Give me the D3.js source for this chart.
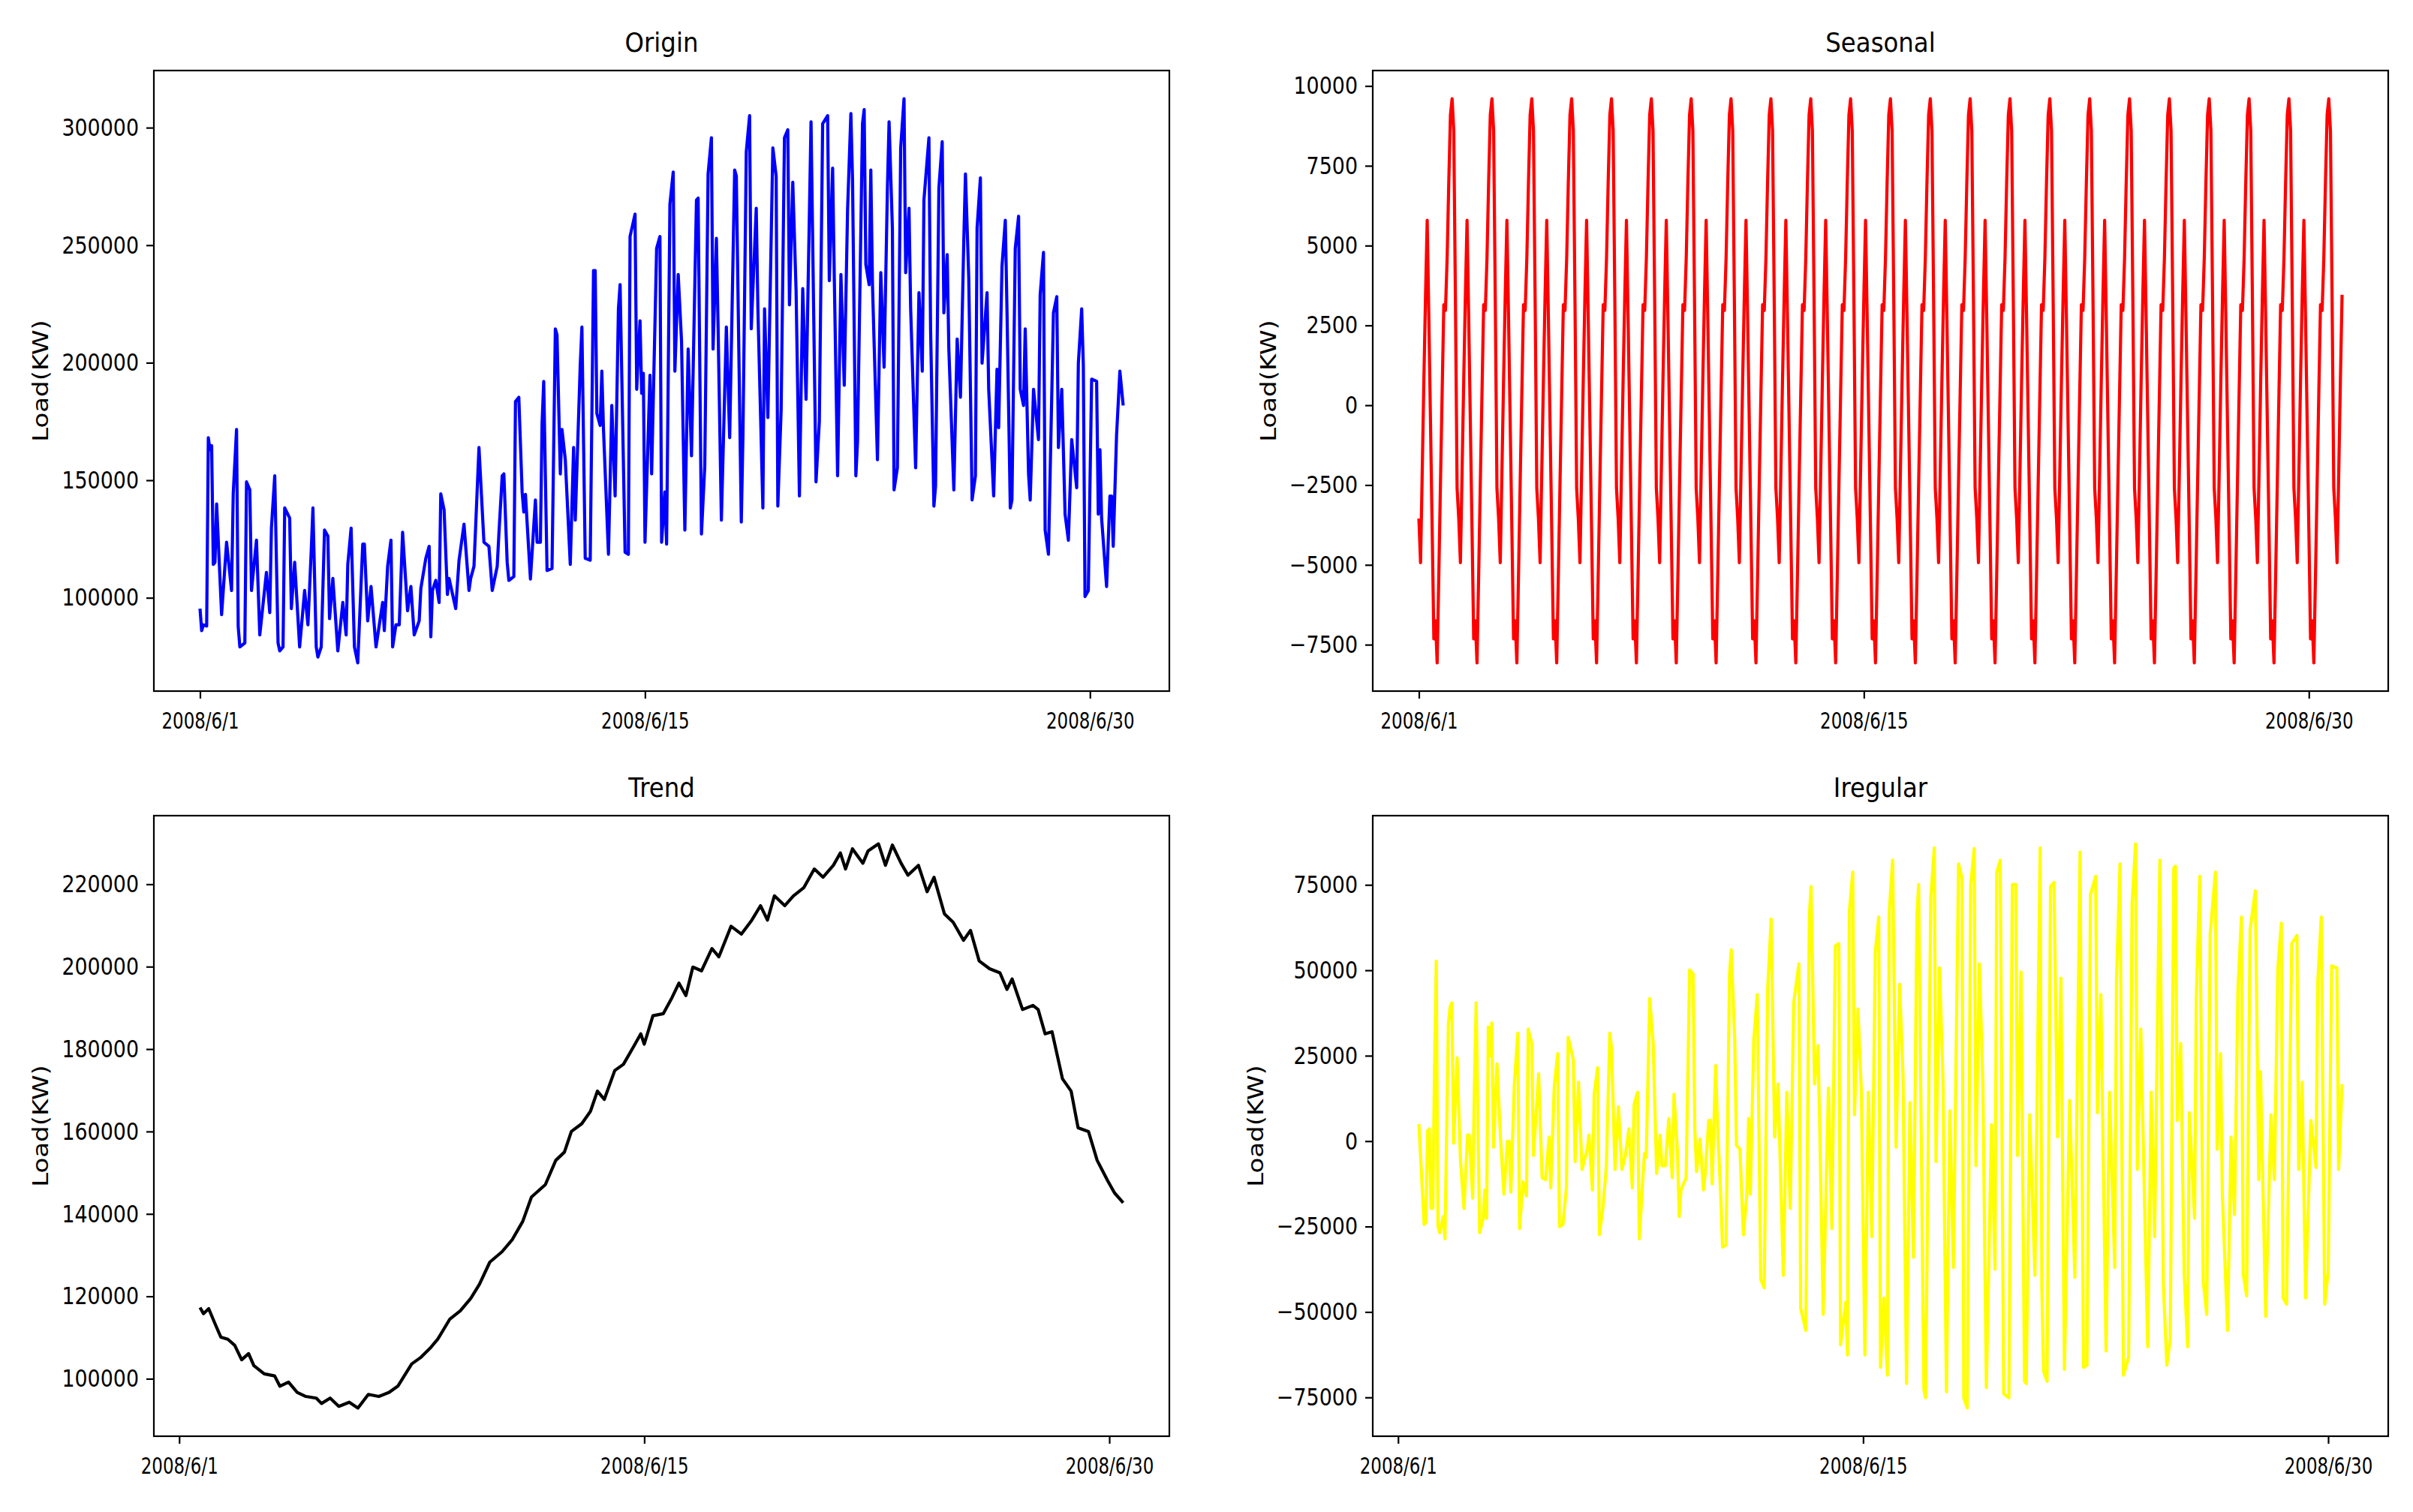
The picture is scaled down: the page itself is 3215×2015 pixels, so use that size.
<!DOCTYPE html>
<html>
<head>
<meta charset="utf-8">
<title>Load decomposition</title>
<script src="https://cdn.jsdelivr.net/npm/d3@7"></script>
<style>
body { margin: 0; background: #fff; }
text { font-family: "DejaVu Sans", sans-serif; fill: #000; }
</style>
</head>
<body>
<script>
// x ticks (hour index -> date label)
var tickHours = [0, 268, 536];
var tickDates = ["2008/6/1", "2008/6/15", "2008/6/30"];

// y ticks per panel
var originTicks = [100000, 150000, 200000, 250000, 300000];
var seasonalTicks = [-7500, -5000, -2500, 0, 2500, 5000, 7500, 10000];
var trendTicks = [100000, 120000, 140000, 160000, 180000, 200000, 220000];
var irregularTicks = [-75000, -50000, -25000, 0, 25000, 50000, 75000];

// observed load, [hour, kW] at the turning points of the curve
var originPoints = [
  [0,95400],[1,86000],[2,88500],[4,88000],[5,168100],[6,163000],[7,164700],[8,114200],[9,115100],[10,139900],
  [13,92800],[16,123600],[19,103100],[20,144200],[22,171600],[23,87700],[24,79100],[27,80800],[28,149300],[30,145900],
  [31,103100],[34,124500],[36,84200],[40,110800],[42,93700],[43,129600],[45,151900],[47,80800],[48,77400],[50,79100],
  [51,138200],[54,133900],[55,95400],[57,115100],[60,79100],[63,103100],[65,88500],[67,120200],[68,138200],[70,79100],
  [71,74800],[73,79100],[75,128800],[77,126200],[78,91100],[80,108200],[83,77400],[86,98000],[88,84200],[89,114200],
  [91,129600],[93,79100],[95,72300],[98,122800],[99,122800],[101,90200],[103,104800],[106,79100],[110,98000],[111,86000],
  [113,113400],[115,124500],[116,79100],[118,88500],[120,88500],[122,127900],[125,94500],[127,104800],[129,84200],[132,90200],
  [133,104000],[136,116800],[138,121900],[139,83400],[140,103100],[142,107400],[144,98000],[145,144200],[147,137300],[149,101400],
  [150,108200],[154,95400],[156,115900],[159,131300],[162,103100],[163,108200],[165,113400],[168,163900],[171,123600],[174,121900],
  [176,103100],[179,113400],[180,127100],[182,151900],[183,152700],[185,115000],[186,107400],[189,109000],[190,183500],[192,185300],
  [194,145000],[195,136500],[196,144000],[199,108000],[202,141600],[203,123600],[205,123600],[206,174000],[207,192000],[209,111600],
  [212,112500],[214,214400],[215,211800],[217,152700],[218,171600],[220,158700],[223,114200],[225,163900],[226,133000],[229,199000],
  [230,215200],[232,116800],[235,116000],[237,239200],[238,239200],[239,178400],[241,173300],[242,196400],[243,171600],[246,118500],
  [248,181800],[250,143300],[252,222900],[253,233200],[256,119400],[258,118500],[259,253700],[262,263200],[263,188700],[265,217800],
  [266,187000],[267,195500],[268,123600],[271,194700],[272,152700],[275,248600],[277,253700],[278,123600],[280,145000],[281,122800],
  [283,267400],[285,281100],[286,196400],[288,237500],[290,209200],[292,128800],[294,205800],[296,160400],[299,269200],[300,270000],
  [302,127100],[304,156200],[306,280300],[308,295700],[309,205800],[311,252900],[312,216100],[314,133000],[317,215200],[319,168100],
  [322,282000],[323,279400],[326,132200],[327,169000],[329,289700],[331,305100],[332,214400],[335,265700],[336,222900],[339,138200],
  [340,222900],[342,176700],[345,291400],[347,279400],[348,139000],[350,180100],[352,295700],[354,299100],[355,224600],[357,276800],
  [359,230600],[361,143300],[363,231500],[365,184400],[368,302500],[371,149300],[373,175000],[375,301700],[378,305100],[379,234900],
  [381,282800],[382,236600],[384,151900],[386,237500],[388,190400],[390,264900],[392,306000],[393,277700],[395,151900],[396,166400],
  [399,301700],[400,307700],[401,241800],[403,233200],[404,282000],[405,233200],[408,158700],[410,238300],[412,198100],[414,274300],
  [415,302500],[417,257200],[418,145900],[420,155300],[422,291400],[424,312300],[425,238300],[427,265700],[428,222900],[431,155300],
  [433,229800],[435,196400],[436,269200],[439,295700],[440,214400],[442,139000],[443,147600],[445,274300],[447,294000],[448,221200],
  [450,246000],[451,205800],[454,145900],[456,210100],[458,185300],[460,252000],[461,280300],[463,235800],[465,141600],[467,151900],
  [468,257200],[470,278600],[471,199800],[474,229800],[475,188700],[478,143300],[480,197200],[481,172400],[483,240900],[485,260600],
  [486,222900],[488,138200],[489,141600],[491,248600],[493,262300],[494,188700],[496,181800],[497,214400],[499,152700],[500,141600],
  [502,188700],[505,167300],[506,228900],[508,246900],[509,128800],[511,118500],[514,221200],[516,228100],[517,163900],[519,188700],
  [521,135600],[523,124500],[525,167300],[528,146800],[529,199800],[531,222900],[532,198900],[533,100500],[535,103100],[537,193000],
  [540,192100],[541,135600],[542,163000],[543,133900],[546,104800],[548,143300],[549,143300],[550,121900],[552,169000],[554,196400],
  [556,181800]
];

// seasonal component, one value per hour (index = hour), one row per day
var seasonalLoad = [
  -3545,-4930,-2100,800,3460,5790,2700,-600,-3900,-7320,-6750,-8070,-5300,-2400,400,3150,2970,4600,7000,9100,
  9600,8600,3300,-2600,-3545,-4930,-2100,800,3460,5790,2700,-600,-3900,-7320,-6750,-8070,-5300,-2400,400,3150,2970,4600,7000,9100,
  9600,8600,3300,-2600,-3545,-4930,-2100,800,3460,5790,2700,-600,-3900,-7320,-6750,-8070,-5300,-2400,400,3150,2970,4600,7000,9100,
  9600,8600,3300,-2600,-3545,-4930,-2100,800,3460,5790,2700,-600,-3900,-7320,-6750,-8070,-5300,-2400,400,3150,2970,4600,7000,9100,
  9600,8600,3300,-2600,-3545,-4930,-2100,800,3460,5790,2700,-600,-3900,-7320,-6750,-8070,-5300,-2400,400,3150,2970,4600,7000,9100,
  9600,8600,3300,-2600,-3545,-4930,-2100,800,3460,5790,2700,-600,-3900,-7320,-6750,-8070,-5300,-2400,400,3150,2970,4600,7000,9100,
  9600,8600,3300,-2600,-3545,-4930,-2100,800,3460,5790,2700,-600,-3900,-7320,-6750,-8070,-5300,-2400,400,3150,2970,4600,7000,9100,
  9600,8600,3300,-2600,-3545,-4930,-2100,800,3460,5790,2700,-600,-3900,-7320,-6750,-8070,-5300,-2400,400,3150,2970,4600,7000,9100,
  9600,8600,3300,-2600,-3545,-4930,-2100,800,3460,5790,2700,-600,-3900,-7320,-6750,-8070,-5300,-2400,400,3150,2970,4600,7000,9100,
  9600,8600,3300,-2600,-3545,-4930,-2100,800,3460,5790,2700,-600,-3900,-7320,-6750,-8070,-5300,-2400,400,3150,2970,4600,7000,9100,
  9600,8600,3300,-2600,-3545,-4930,-2100,800,3460,5790,2700,-600,-3900,-7320,-6750,-8070,-5300,-2400,400,3150,2970,4600,7000,9100,
  9600,8600,3300,-2600,-3545,-4930,-2100,800,3460,5790,2700,-600,-3900,-7320,-6750,-8070,-5300,-2400,400,3150,2970,4600,7000,9100,
  9600,8600,3300,-2600,-3545,-4930,-2100,800,3460,5790,2700,-600,-3900,-7320,-6750,-8070,-5300,-2400,400,3150,2970,4600,7000,9100,
  9600,8600,3300,-2600,-3545,-4930,-2100,800,3460,5790,2700,-600,-3900,-7320,-6750,-8070,-5300,-2400,400,3150,2970,4600,7000,9100,
  9600,8600,3300,-2600,-3545,-4930,-2100,800,3460,5790,2700,-600,-3900,-7320,-6750,-8070,-5300,-2400,400,3150,2970,4600,7000,9100,
  9600,8600,3300,-2600,-3545,-4930,-2100,800,3460,5790,2700,-600,-3900,-7320,-6750,-8070,-5300,-2400,400,3150,2970,4600,7000,9100,
  9600,8600,3300,-2600,-3545,-4930,-2100,800,3460,5790,2700,-600,-3900,-7320,-6750,-8070,-5300,-2400,400,3150,2970,4600,7000,9100,
  9600,8600,3300,-2600,-3545,-4930,-2100,800,3460,5790,2700,-600,-3900,-7320,-6750,-8070,-5300,-2400,400,3150,2970,4600,7000,9100,
  9600,8600,3300,-2600,-3545,-4930,-2100,800,3460,5790,2700,-600,-3900,-7320,-6750,-8070,-5300,-2400,400,3150,2970,4600,7000,9100,
  9600,8600,3300,-2600,-3545,-4930,-2100,800,3460,5790,2700,-600,-3900,-7320,-6750,-8070,-5300,-2400,400,3150,2970,4600,7000,9100,
  9600,8600,3300,-2600,-3545,-4930,-2100,800,3460,5790,2700,-600,-3900,-7320,-6750,-8070,-5300,-2400,400,3150,2970,4600,7000,9100,
  9600,8600,3300,-2600,-3545,-4930,-2100,800,3460,5790,2700,-600,-3900,-7320,-6750,-8070,-5300,-2400,400,3150,2970,4600,7000,9100,
  9600,8600,3300,-2600,-3545,-4930,-2100,800,3460,5790,2700,-600,-3900,-7320,-6750,-8070,-5300,-2400,400,3150,2970,4600,7000,9100,
  9600,8600,3300,-2600,-3545,-4930,-2100,800,3460
];

// trend component, [hour, kW]
var trendPoints = [
  [12,117300],[14,115800],[17,117000],[21,113000],[24,110100],[28,109600],[32,108100],[36,104600],[40,106100],[43,103200],
  [49,101200],[55,100700],[58,98200],[63,99200],[68,96700],[73,95700],[79,95300],[82,94000],[87,95300],[92,93300],
  [98,94300],[103,92900],[109,96200],[115,95700],[121,96700],[126,98200],[134,103600],[139,105100],[145,107600],[149,109600],
  [156,114500],[162,116500],[168,119500],[173,122900],[179,128300],[186,130800],[192,133800],[198,138200],[203,144100],[211,147100],
  [217,153000],[222,155000],[226,160000],[232,161900],[237,164900],[241,169800],[245,167800],[251,174800],[256,176300],[262,180700],
  [266,183700],[268,181200],[273,188100],[279,188600],[284,192500],[288,196000],[292,193000],[296,199900],[301,199000],[307,204400],
  [311,202400],[318,209800],[324,207900],[330,211300],[335,214800],[339,211300],[343,217200],[349,214800],[354,217200],[360,219200],
  [366,223700],[371,221700],[377,224600],[381,227600],[384,223700],[388,228600],[394,225100],[397,228100],[403,229800],[407,224600],
  [411,229500],[416,225100],[420,222200],[426,224600],[431,218200],[435,221700],[441,212800],[446,210800],[452,206400],[456,208800],
  [461,201400],[467,199500],[473,198500],[477,194500],[480,197000],[486,189600],[492,190600],[495,189600],[499,183700],[503,184200],
  [509,172800],[514,169800],[518,160900],[524,160000],[529,153000],[535,148100],[539,145100],[544,142700]
];

// irregular (residual) component, [hour, kW]
var irregularPoints = [
  [12,5000],[14,-14300],[15,-24400],[16,-23800],[17,3000],[18,3600],[19,-19700],[20,-19700],[21,21500],[22,52700],
  [23,-25000],[24,-26800],[26,-22100],[27,-28600],[29,34600],[30,39300],[31,40500],[32,-600],[34,24400],[36,-6000],
  [38,-19700],[40,1800],[41,1800],[43,-16700],[44,16700],[45,40500],[47,-26800],[49,-22600],[50,-14300],[51,-22600],
  [52,33400],[53,25000],[54,34600],[55,-1800],[57,22600],[59,1200],[61,-15500],[63,0],[64,0],[65,-14900],
  [67,16700],[69,31600],[70,-25600],[72,-11900],[74,-16100],[75,32800],[77,28600],[78,-4200],[81,19700],[83,-10700],
  [85,-11300],[87,1200],[88,-13700],[90,16100],[92,25600],[93,-25000],[95,-24400],[97,-13700],[98,30400],[101,23800],
  [102,-6000],[104,17300],[106,-8300],[109,-2400],[110,1800],[112,-14300],[113,13700],[115,21500],[116,-27400],[118,-19700],
  [120,-7700],[122,31600],[123,27400],[125,-8300],[127,10100],[129,-8300],[131,-4200],[133,3600],[135,-13700],[136,10700],
  [138,14300],[139,-28600],[141,-11300],[142,-3600],[143,-4800],[145,41700],[147,28600],[149,-9500],[151,1800],[152,-7200],
  [154,-7200],[156,6600],[158,-10700],[159,13700],[161,-3000],[162,-22100],[163,-14300],[166,-10700],[168,50100],[170,48900],
  [171,3600],[172,-8900],[174,600],[176,-14300],[177,-9500],[179,6000],[180,6000],[181,-12500],[183,22100],[184,6000],
  [186,-16700],[187,-31000],[189,-30400],[191,48900],[192,56000],[194,29800],[195,-1200],[197,-2400],[199,-27400],[201,-15500],
  [202,6600],[203,-15500],[205,29800],[207,42900],[209,-40500],[211,-42900],[213,44700],[215,65000],[217,1200],[219,16700],
  [222,-39300],[224,14300],[226,-19700],[228,40500],[231,51900],[232,-48900],[235,-55400],[237,66200],[238,74500],[240,16700],
  [242,28000],[243,3600],[245,-50700],[248,15500],[250,-25600],[252,57200],[254,57800],[255,-59600],[258,-47100],[259,-62600],
  [260,66800],[262,78700],[263,7700],[265,38700],[267,14300],[269,-62600],[271,14300],[273,-28000],[275,55400],[277,65600],
  [278,-66200],[280,-45900],[282,-68500],[283,66800],[285,82200],[287,-1800],[289,45900],[291,19100],[293,-70900],[295,11300],
  [297,-34000],[299,66200],[300,75100],[303,-72700],[304,-75100],[307,71500],[309,85800],[310,-6000],[312,50700],[314,18500],
  [316,-73300],[318,8900],[320,-37000],[323,81100],[325,76900],[326,-75100],[328,-78100],[330,75100],[332,85600],[333,-7200],
  [335,51900],[337,16700],[339,-72100],[342,4800],[344,-37500],[345,78700],[347,82200],[349,-73900],[352,-75100],[354,75100],
  [356,75100],[357,-4200],[359,49500],[361,-70300],[362,-70900],[364,7700],[367,-39300],[370,85800],[371,-42900],[372,-67300],
  [374,-70300],[376,74500],[378,75700],[380,1200],[382,47700],[384,-66800],[387,11900],[390,-39900],[393,84600],[395,-66200],
  [397,-65600],[399,72100],[402,77500],[403,8300],[405,42900],[408,-61400],[410,14300],[413,-37000],[414,47100],[416,81100],
  [418,-68500],[421,-63200],[423,69700],[425,87000],[426,-8300],[428,32800],[432,-60200],[434,14300],[436,-28000],[438,49500],
  [439,82200],[441,-41700],[443,-65600],[445,-57800],[447,79900],[448,80500],[449,6000],[451,28600],[453,-38700],[455,-60200],
  [456,8300],[459,-22600],[460,41700],[462,77500],[464,-41100],[466,-50700],[468,60800],[471,78700],[472,-2400],[474,25600],
  [475,-15500],[478,-55400],[480,1200],[482,-21500],[484,44700],[486,65600],[487,-38700],[489,-45300],[491,62000],[494,73300],
  [496,-11300],[497,20300],[500,-51300],[503,7700],[505,-11300],[507,50700],[509,63800],[510,-45900],[512,-47700],[515,57800],
  [518,60200],[519,-8300],[521,17300],[523,-45900],[526,6000],[529,-7700],[530,46500],[532,65600],[534,-47700],[536,-38100],
  [538,51300],[541,50700],[542,-8300],[544,16700]
];

var svgW = 3215, svgH = 2015;
var boxW = 1353, boxH = 827;
var colL = 205, colR = 1829, rowT = 94, rowB = 1087;

var svg = d3.select("body").append("svg")
  .attr("width", svgW).attr("height", svgH)
  .style("background", "#fff");

function fmt(d) { return d < 0 ? "\u2212" + (-d) : "" + d; }

function drawPanel(p) {
  var g = svg.append("g").attr("transform", "translate(" + p.left + "," + p.top + ")");

  // matplotlib-like autoscale: data extent plus 5% on each side
  var xExt = d3.extent(p.data, d => d[0]), yExt = d3.extent(p.data, d => d[1]);
  var xPad = (xExt[1] - xExt[0]) * 0.05, yPad = (yExt[1] - yExt[0]) * 0.05;
  var x = d3.scaleLinear().domain([xExt[0] - xPad, xExt[1] + xPad]).range([0, boxW]);
  var y = d3.scaleLinear().domain([yExt[0] - yPad, yExt[1] + yPad]).range([boxH, 0]);

  g.append("path")
    .datum(p.data)
    .attr("fill", "none")
    .attr("stroke", p.color)
    .attr("stroke-width", 4.2)
    .attr("stroke-linejoin", "round")
    .attr("d", d3.line().x(d => x(d[0])).y(d => y(d[1])));

  var ya = g.append("g")
    .call(d3.axisLeft(y).tickValues(p.yTicks).tickFormat(fmt).tickSize(10).tickPadding(10));
  ya.select(".domain").remove();
  ya.selectAll("line").attr("stroke", "#000").attr("stroke-width", 2.2);
  ya.selectAll("text")
    .attr("font-size", 32)
    .attr("font-family", "DejaVu Sans")
    .attr("fill", "#000")
    .attr("x", -20 / 0.84)
    .attr("transform", "scale(0.84,1)");

  var xa = g.append("g").attr("transform", "translate(0," + boxH + ")")
    .call(d3.axisBottom(x).tickValues(tickHours).tickFormat((d, i) => tickDates[i]).tickSize(10));
  xa.select(".domain").remove();
  xa.selectAll("line").attr("stroke", "#000").attr("stroke-width", 2.2);
  xa.selectAll("text")
    .attr("font-size", 31)
    .attr("font-family", "DejaVu Sans")
    .attr("fill", "#000")
    .attr("y", 50)
    .attr("dy", 0)
    .attr("transform", "scale(0.74,1)");

  g.append("rect")
    .attr("width", boxW).attr("height", boxH)
    .attr("fill", "none").attr("stroke", "#000").attr("stroke-width", 2.2);

  g.append("text")
    .attr("transform", "translate(" + (boxW / 2) + ",-25) scale(0.9,1)")
    .attr("text-anchor", "middle")
    .attr("font-size", 36)
    .text(p.title);

  // y label sits just left of the widest tick label
  var minLeft = d3.min(ya.selectAll("text").nodes(), n => n.getBoundingClientRect().left) - p.left;
  g.append("text")
    .attr("transform", "translate(" + (minLeft - 18) + "," + (boxH / 2) + ") rotate(-90) scale(1,0.82)")
    .attr("text-anchor", "middle")
    .attr("font-size", 34)
    .text("Load(KW)");
}

drawPanel({ left: colL, top: rowT, title: "Origin", color: "#0000ff",
  data: originPoints, yTicks: originTicks });
drawPanel({ left: colR, top: rowT, title: "Seasonal", color: "#ff0000",
  data: seasonalLoad.map((v, i) => [i, v]), yTicks: seasonalTicks });
drawPanel({ left: colL, top: rowB, title: "Trend", color: "#000000",
  data: trendPoints, yTicks: trendTicks });
drawPanel({ left: colR, top: rowB, title: "Iregular", color: "#ffff00",
  data: irregularPoints, yTicks: irregularTicks });
</script>
</body>
</html>
